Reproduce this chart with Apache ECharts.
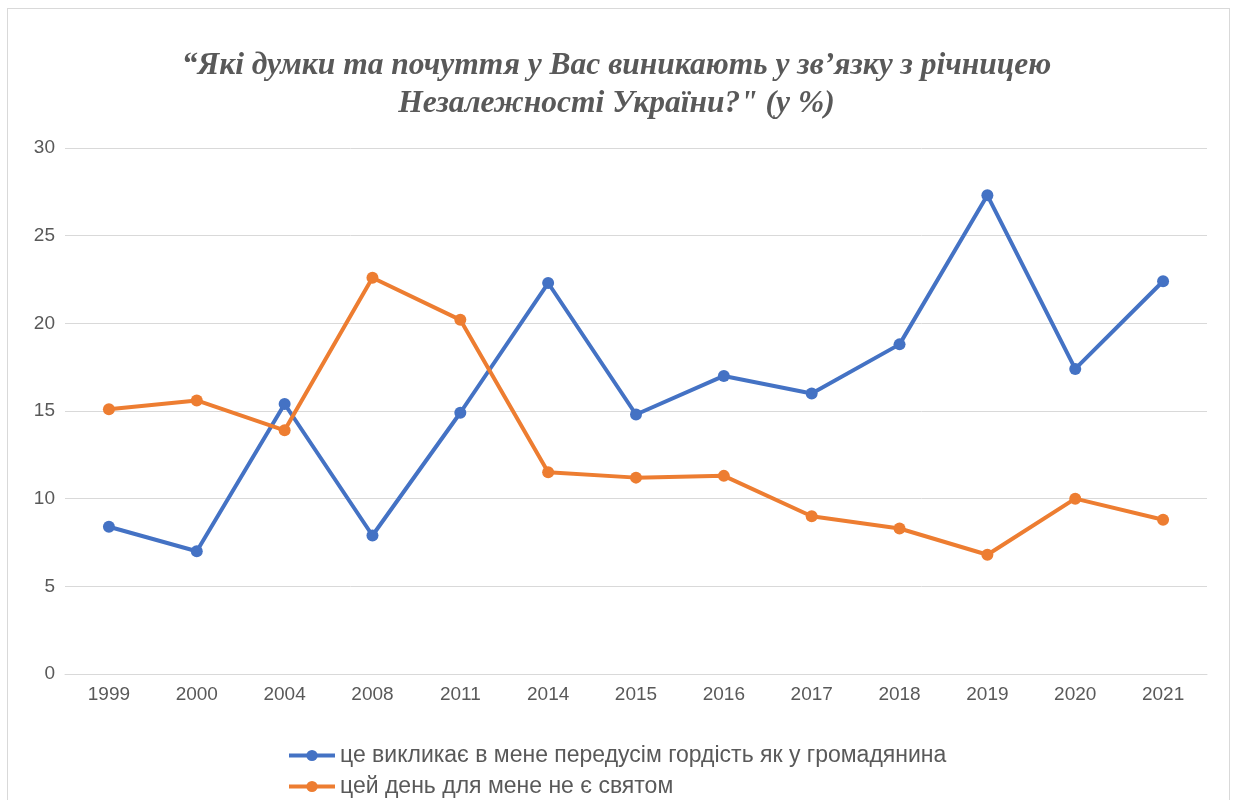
<!DOCTYPE html>
<html><head><meta charset="utf-8">
<script src="https://cdn.jsdelivr.net/npm/echarts@6/dist/echarts.min.js"></script>
<style>html,body{margin:0;padding:0;background:#fff}#c{width:1233px;height:800px}
#frame{position:absolute;left:7px;top:8px;width:1223px;height:800px;border:1px solid #d9d9d9;box-sizing:border-box;pointer-events:none}</style>
</head><body><div id="c"></div><div id="frame"></div>
<script>
const categories = ['1999','2000','2004','2008','2011','2014','2015','2016','2017','2018','2019','2020','2021'];
const pride = [8.4,7.0,15.4,7.9,14.9,22.3,14.8,17.0,16.0,18.8,27.3,17.4,22.4];
const notHoliday = [15.1,15.6,13.9,22.6,20.2,11.5,11.2,11.3,9.0,8.3,6.8,10.0,8.8];
const seriesNames = ['це викликає в мене передусім гордість як у громадянина','цей день для мене не є святом'];
const yTicks = {min:0,max:30,interval:5};

const chart = echarts.init(document.getElementById('c'));
const mk = (name, data, color) => ({
  name, type:'line', data, symbol:'circle', symbolSize:12,
  lineStyle:{width:4,color}, itemStyle:{color}, emphasis:{disabled:true}
});
const legendBase = (name, top) => ({
  orient:'vertical', left:282, top, itemWidth:46, itemHeight:14,
  data:[name], lineStyle:{width:4},
  textStyle:{color:'#595959',fontSize:23,fontFamily:'Liberation Sans'}
});
chart.setOption({
  animation:false,
  title:{
    text:'“Які думки та почуття у Вас виникають у зв’язку з річницею\nНезалежності України?" (у %)',
    left:'center', top:42,
    textStyle:{fontFamily:'Liberation Serif',fontStyle:'italic',fontWeight:'bold',fontSize:31.5,color:'#595959',lineHeight:38}
  },
  grid:{left:65,right:26,top:148,bottom:126},
  xAxis:{type:'category',data:categories,boundaryGap:true,
    axisLine:{lineStyle:{color:'#d9d9d9',width:1}},axisTick:{show:false},
    axisLabel:{color:'#595959',fontSize:19,fontFamily:'Liberation Sans',margin:11}},
  yAxis:{type:'value',min:yTicks.min,max:yTicks.max,interval:yTicks.interval,
    axisLine:{show:false},axisTick:{show:false},
    splitLine:{lineStyle:{color:'#d9d9d9',width:1}},
    axisLabel:{color:'#595959',fontSize:19,fontFamily:'Liberation Sans',margin:10}},
  legend:[legendBase(seriesNames[0],739), legendBase(seriesNames[1],770)],
  series:[mk(seriesNames[0],pride,'#4472C4'),mk(seriesNames[1],notHoliday,'#ED7D31')]
});
</script></body></html>
